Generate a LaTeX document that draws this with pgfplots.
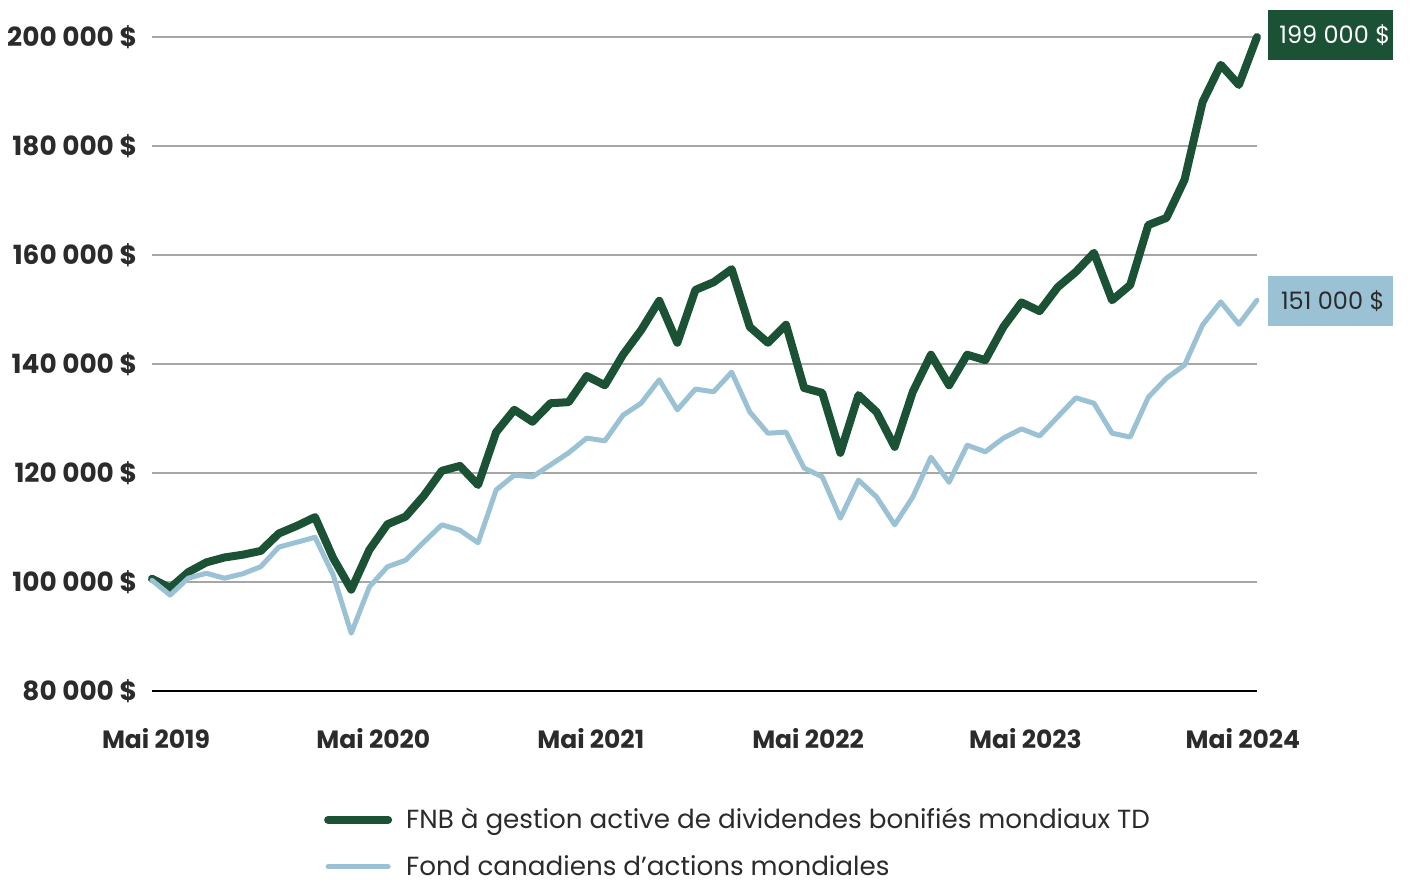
\documentclass[border=0pt]{standalone}
\usepackage{fontspec}
\setmainfont{Poppins}
\usepackage{pgfplots}
\pgfplotsset{compat=1.18}
\usepackage{pgfplotstable}
\definecolor{tdgreen}{HTML}{1B5235}
\definecolor{tdblue}{HTML}{9BC1D4}
\definecolor{txt}{HTML}{2B2B2B}
\definecolor{gridc}{HTML}{A6A6A6}

\pgfplotstableread{
i g b
0 100600 100300
1 98900 97600
2 101800 100700
3 103600 101600
4 104500 100700
5 105000 101500
6 105700 102800
7 108900 106400
8 110300 107300
9 111900 108200
10 104400 101300
11 98600 90600
12 105900 99100
13 110600 102800
14 112000 104000
15 115800 107300
16 120400 110500
17 121300 109500
18 117800 107200
19 127500 116900
20 131600 119600
21 129400 119300
22 132800 121500
23 133000 123700
24 137800 126400
25 136100 125900
26 141700 130600
27 146200 132800
28 151600 137100
29 143900 131600
30 153600 135400
31 155000 134900
32 157400 138500
33 146800 131200
34 143900 127300
35 147200 127500
36 135600 120900
37 134700 119300
38 123700 111700
39 134300 118700
40 131200 115600
41 124800 110500
42 134900 115600
43 141700 122900
44 136100 118300
45 141700 125100
46 140700 123900
47 146800 126400
48 151300 128100
49 149700 126800
50 154100 130300
51 156900 133800
52 160400 132800
53 151700 127300
54 154500 126600
55 165500 133900
56 166800 137400
57 173800 139800
58 188100 147200
59 194900 151400
60 191200 147300
61 200000 151700
}\data

\begin{document}
\begin{tikzpicture}
\path[use as bounding box] (-76pt,-96.5pt) rectangle (629pt,345.5pt);
\begin{axis}[
  at={(0,0)}, anchor=south west,
  scale only axis, width=552.5pt, height=327pt,
  xmin=0, xmax=61, ymin=80000, ymax=200000,
  clip=false,
  scaled y ticks=false,
  axis x line*=bottom, axis y line*=left,
  x axis line style={black, line width=1pt, -},
  y axis line style={draw=none},
  major tick length=0pt,
  ytick={80000,100000,120000,140000,160000,180000,200000},
  yticklabels={80 000 \$,100 000 \$,120 000 \$,140 000 \$,160 000 \$,180 000 \$,200 000 \$},
  ymajorgrids, grid style={gridc, line width=0.6pt},
  xtick={0,12,24,36,48,60},
  xticklabels={Mai 2019,Mai 2020,Mai 2021,Mai 2022,Mai 2023,Mai 2024},
  tick label style={text=txt},
  yticklabel style={font=\bfseries\fontsize{13.2}{15}\selectfont, xshift=-4pt},
  xticklabel style={font=\bfseries\fontsize{12.5}{15}\selectfont, yshift=-15pt, xshift=2pt},
  legend style={at={(0.150,-0.166)}, anchor=north west, draw=none, fill=none,
    font=\fontsize{13.1}{16}\selectfont, text=txt, row sep=8pt,
    /tikz/every odd column/.append style={column sep=5pt}},
  legend cell align=left,
  legend image code/.code={\draw[#1] (0pt,0pt) -- (30pt,0pt);},
]
\addplot[tdgreen, line width=4pt, line cap=round, line join=round] table[x=i, y=g] {\data};
\addlegendentry{FNB à gestion active de dividendes bonifiés mondiaux TD}
\addplot[tdblue, line width=2.5pt, line cap=round, line join=round] table[x=i, y=b] {\data};
\addlegendentry{Fond canadiens d’actions mondiales}
\node[fill=tdgreen, text=white, anchor=west, minimum width=62.5pt, minimum height=25pt, inner sep=0pt, font=\fontsize{12}{14}\selectfont] at (axis cs:61.6,200400) {\hspace{4pt}199 000 \$};
\node[fill=tdblue, text=txt, anchor=west, minimum width=62.5pt, minimum height=25pt, inner sep=0pt, font=\fontsize{12}{14}\selectfont] at (axis cs:61.6,151600) {\hspace{2pt}151 000 \$};
\end{axis}
\end{tikzpicture}
\end{document}
